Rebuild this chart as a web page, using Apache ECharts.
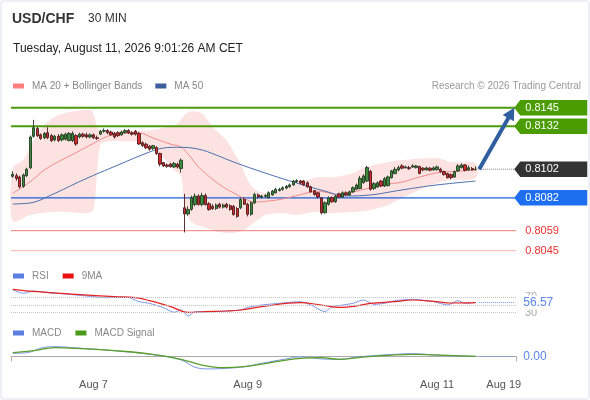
<!DOCTYPE html>
<html>
<head>
<meta charset="utf-8">
<script src="https://cdn.jsdelivr.net/npm/echarts/dist/echarts.min.js"></script>
<style>
html,body{margin:0;padding:0;background:#fff;}
#chart{position:absolute;left:0;top:0;width:590px;height:400px;}
#frame{position:absolute;left:0;top:0;width:586px;height:396px;border:2px solid #edf0f4;border-radius:4px;pointer-events:none;}
</style>
</head>
<body>
<div id="chart"></div>
<div id="frame"></div>
<script>
// ---------- DATA ----------
const slotCount = 144;                       // candle slots incl. right padding
const categories = Array.from({length: slotCount}, (_, i) => String(i));
const xTickIndex = [23, 67, 121, 140];
const xTickLabels = ['Aug 7', 'Aug 9', 'Aug 11', 'Aug 19'];

// [open, close, low, high]
const candles = [
[0.80970,0.80985,0.80960,0.81005],[0.80975,0.80955,0.80940,0.80990],[0.80965,0.80897,0.80886,0.80975],[0.80900,0.80980,0.80890,0.80990],
[0.80975,0.81020,0.80965,0.81030],[0.81030,0.81245,0.81020,0.81255],[0.81250,0.81310,0.81240,0.81365],[0.81305,0.81255,0.81245,0.81315],
[0.81260,0.81235,0.81225,0.81270],[0.81240,0.81270,0.81230,0.81280],[0.81275,0.81240,0.81230,0.81313],[0.81255,0.81220,0.81210,0.81265],
[0.81225,0.81250,0.81215,0.81260],[0.81250,0.81220,0.81210,0.81265],[0.81225,0.81260,0.81215,0.81270],[0.81230,0.81265,0.81220,0.81275],
[0.81220,0.81270,0.81215,0.81280],[0.81220,0.81270,0.81210,0.81285],[0.81255,0.81196,0.81184,0.81265],[0.81245,0.81265,0.81235,0.81275],
[0.81265,0.81250,0.81240,0.81275],[0.81260,0.81245,0.81235,0.81275],[0.81245,0.81260,0.81235,0.81270],[0.81260,0.81240,0.81230,0.81270],
[0.81240,0.81235,0.81225,0.81255],[0.81265,0.81285,0.81260,0.81295],[0.81285,0.81290,0.81275,0.81305],[0.81290,0.81275,0.81265,0.81300],
[0.81280,0.81260,0.81255,0.81290],[0.81270,0.81245,0.81235,0.81280],[0.81275,0.81255,0.81245,0.81285],[0.81260,0.81280,0.81255,0.81290],
[0.81275,0.81290,0.81270,0.81300],[0.81290,0.81275,0.81265,0.81300],[0.81275,0.81265,0.81255,0.81285],[0.81285,0.81265,0.81255,0.81295],
[0.81270,0.81196,0.81190,0.81280],[0.81205,0.81185,0.81175,0.81215],[0.81195,0.81170,0.81160,0.81205],[0.81180,0.81160,0.81150,0.81190],
[0.81165,0.81184,0.81155,0.81190],[0.81172,0.81130,0.81120,0.81180],[0.81130,0.81055,0.81040,0.81135],[0.81066,0.81043,0.81035,0.81070],
[0.81050,0.81040,0.81030,0.81060],[0.81055,0.81038,0.81030,0.81065],[0.81035,0.81060,0.81030,0.81070],[0.81055,0.81035,0.81025,0.81065],
[0.81025,0.81083,0.80996,0.81095],[0.80750,0.80707,0.80578,0.80848],[0.80707,0.80738,0.80695,0.80760],[0.80740,0.80820,0.80730,0.80835],
[0.80773,0.80832,0.80760,0.80850],[0.80832,0.80773,0.80765,0.80845],[0.80773,0.80836,0.80760,0.80855],[0.80836,0.80773,0.80765,0.80850],
[0.80778,0.80738,0.80730,0.80790],[0.80760,0.80745,0.80735,0.80775],[0.80745,0.80770,0.80735,0.80780],[0.80775,0.80755,0.80745,0.80785],
[0.80755,0.80770,0.80745,0.80780],[0.80775,0.80755,0.80745,0.80785],[0.80765,0.80738,0.80730,0.80775],[0.80760,0.80703,0.80695,0.80770],
[0.80745,0.80690,0.80680,0.80755],[0.80750,0.80808,0.80740,0.80820],[0.80808,0.80775,0.80770,0.80825],[0.80775,0.80705,0.80690,0.80785],
[0.80705,0.80785,0.80695,0.80795],[0.80785,0.80843,0.80775,0.80855],[0.80840,0.80825,0.80815,0.80850],[0.80825,0.80832,0.80815,0.80840],
[0.80830,0.80836,0.80820,0.80845],[0.80820,0.80855,0.80815,0.80865],[0.80840,0.80867,0.80835,0.80875],[0.80855,0.80879,0.80850,0.80890],
[0.80870,0.80879,0.80865,0.80890],[0.80879,0.80890,0.80870,0.80900],[0.80888,0.80900,0.80880,0.80910],[0.80898,0.80910,0.80890,0.80920],
[0.80910,0.80937,0.80905,0.80945],[0.80933,0.80940,0.80925,0.80950],[0.80937,0.80923,0.80915,0.80945],[0.80937,0.80910,0.80905,0.80945],
[0.80925,0.80897,0.80890,0.80935],[0.80897,0.80862,0.80855,0.80905],[0.80870,0.80843,0.80835,0.80875],[0.80855,0.80826,0.80815,0.80860],
[0.80820,0.80715,0.80703,0.80825],[0.80715,0.80785,0.80710,0.80795],[0.80775,0.80820,0.80765,0.80830],[0.80820,0.80792,0.80785,0.80830],
[0.80792,0.80832,0.80785,0.80840],[0.80848,0.80825,0.80820,0.80855],[0.80825,0.80855,0.80820,0.80865],[0.80855,0.80840,0.80835,0.80865],
[0.80840,0.80862,0.80835,0.80870],[0.80862,0.80890,0.80855,0.80900],[0.80880,0.80909,0.80875,0.80920],[0.80885,0.80956,0.80880,0.80973],
[0.80925,0.80973,0.80920,0.80985],[0.80937,0.81031,0.80930,0.81043],[0.81005,0.80879,0.80870,0.81015],[0.80885,0.80919,0.80875,0.80930],
[0.80895,0.80925,0.80890,0.80935],[0.80937,0.80902,0.80895,0.80945],[0.80902,0.80954,0.80895,0.80965],[0.80905,0.80966,0.80900,0.80975],
[0.80960,0.81008,0.80955,0.81015],[0.80989,0.81019,0.80985,0.81035],[0.81015,0.81031,0.81005,0.81045],[0.81043,0.81027,0.81020,0.81055],
[0.81030,0.81036,0.81025,0.81045],[0.81031,0.81024,0.81015,0.81043],[0.81035,0.81043,0.81030,0.81055],[0.81031,0.81043,0.81025,0.81050],
[0.81038,0.80990,0.80985,0.81045],[0.81027,0.81015,0.81005,0.81035],[0.81015,0.81029,0.81010,0.81038],[0.81027,0.81013,0.81005,0.81035],
[0.81015,0.81029,0.81010,0.81040],[0.81017,0.81036,0.81010,0.81045],[0.81020,0.81003,0.80995,0.81030],[0.81003,0.80982,0.80975,0.81010],
[0.80989,0.80961,0.80955,0.80995],[0.80982,0.80961,0.80949,0.80990],[0.80965,0.81003,0.80960,0.81010],[0.81008,0.81043,0.81000,0.81055],
[0.81031,0.81050,0.81025,0.81060],[0.81050,0.81012,0.81005,0.81055],[0.81015,0.81030,0.81010,0.81045],[0.81025,0.81015,0.81010,0.81035],
[0.81017,0.81020,0.81012,0.81040]
];

// [slot index, value]
const ma20 = [[0,0.80851],[5,0.80933],[9,0.81014],[13,0.81072],[18,0.81135],[23,0.812],[27,0.8125],[31,0.8127],[36,0.81273],[40,0.81238],[45,0.81195],[48,0.81175],[50,0.81125],[53,0.81035],[55,0.8099],[58,0.8093],[61,0.8088],[63,0.80854],[66,0.80815],[69,0.80791],[72,0.80795],[77,0.80812],[82,0.80842],[87,0.80866],[89,0.8086],[93,0.8084],[97,0.8086],[102,0.8089],[106,0.80912],[111,0.8093],[116,0.80965],[121,0.80995],[125,0.81003],[132,0.81014]];
const bandUpper = [[0,0.81028],[3,0.81084],[6,0.81224],[9,0.81329],[13,0.81399],[18,0.81427],[22,0.81434],[23,0.8141],[24,0.8132],[25,0.81285],[32,0.81287],[37,0.81287],[40,0.81294],[44,0.81315],[47,0.8134],[49,0.814],[51,0.81425],[54,0.8141],[57,0.81315],[61,0.8122],[63,0.8114],[65,0.81055],[67,0.80945],[69,0.8088],[72,0.80854],[77,0.80875],[81,0.80944],[84,0.80944],[87,0.80965],[92,0.80965],[97,0.80993],[100,0.81028],[107,0.8107],[111,0.81084],[121,0.81098],[125,0.8107],[132,0.81063]];
const bandLower = [[0,0.80658],[5,0.807],[11,0.80721],[16,0.80721],[21,0.80714],[23,0.80735],[24,0.8098],[25,0.8119],[27,0.81215],[33,0.81215],[37,0.81205],[40,0.81168],[43,0.81098],[46,0.81014],[48,0.80972],[49,0.8077],[51,0.8065],[55,0.8061],[59,0.8058],[63,0.80574],[66,0.80595],[69,0.8065],[72,0.807],[77,0.80714],[81,0.807],[86,0.80721],[89,0.80714],[97,0.80721],[102,0.80735],[107,0.8077],[111,0.80819],[116,0.80875],[121,0.80923],[125,0.80944],[132,0.80958]];
const ma50 = [[0,0.80777],[5,0.80784],[11,0.8084],[20,0.80944],[30,0.81049],[39,0.8114],[43,0.81168],[47,0.81173],[53,0.8116],[58,0.81119],[63,0.8107],[72,0.80993],[81,0.80923],[89,0.80867],[95,0.80833],[102,0.8084],[111,0.80875],[121,0.8091],[132,0.80937]];

const targetLevels = [0.8145, 0.8132];
const pivotLevel = 0.8082;
const supportLevels = [0.8059, 0.8045];

const rsi = [[0,89],[3,80.4],[6,86.4],[10,82],[16,77.8],[21,73.4],[26,69],[33,69.5],[36,58.7],[39,54.3],[43,43],[46,31],[48,37],[50,21.4],[52,32.6],[56,32.6],[61,34.4],[65,37],[67,43.9],[71,50],[78,56],[82,58.7],[85,50],[89,32.6],[91,45.7],[93,48.3],[97,54.3],[100,63],[103,51.7],[106,54.3],[109,61.3],[114,64.8],[120,58.7],[124,50],[127,61.3],[129,54.3],[132,56.57]];
const rsiMa = [[0,90.8],[7,84.6],[18,77.8],[29,71.6],[35,69],[39,61.3],[45,45.7],[50,31],[55,32.6],[61,34.4],[65,37],[71,45.7],[82,56],[88,50],[93,43.9],[98,47.4],[102,54.3],[109,58.7],[114,63],[120,59.5],[125,55.2],[132,56]];
const rsiLevels = [70, 50, 30];

const macd = [[0,0.00015],[4,0.00018],[9,0.00045],[12,0.00048],[18,0.00042],[29,0.00028],[39,0.0001],[48,-0.00018],[52,-0.00055],[56,-0.00063],[61,-0.0006],[66,-0.00052],[71,-0.00035],[78,-0.00013],[82,-0.00003],[88,-0.00013],[93,-0.00015],[99,-0.00002],[109,0.0001],[114,0.00013],[120,0.00007],[125,0.00002],[132,0]];
const macdSignal = [[0,0.00018],[6,0.00028],[12,0.00043],[18,0.0004],[29,0.00028],[39,0.00012],[48,-0.00015],[54,-0.00044],[60,-0.00057],[66,-0.00052],[71,-0.00039],[82,-0.0001],[88,-0.00007],[93,-0.00015],[99,-0.00005],[109,0.00007],[114,0.0001],[120,0.00007],[132,0]];

// ---------- DERIVED ----------
const lastIdx = candles.length - 1;
const nextIdx = candles.length;           // slot right after the last candle
const tagIdx = slotCount - 1;             // right edge slot
const lastClose = candles[lastIdx][1];
const lastRsi = rsi[rsi.length - 1][1];
const lastMacd = macd[macd.length - 1][1];

const FONT = '"Liberation Sans", Arial, Helvetica, sans-serif';
const GREEN = '#4a9c00', BLUE = '#1d6ff0', DARK = '#333333';
const tagItems = [[tagIdx, targetLevels[0]], [tagIdx, targetLevels[1]], [tagIdx, lastClose], [tagIdx, pivotLevel]];
const tagColors = [GREEN, GREEN, DARK, BLUE];

const levelLines = [
  {v: targetLevels[0], color: '#4c9a0c', width: 2},
  {v: targetLevels[1], color: '#4c9a0c', width: 2},
  {v: pivotLevel, color: '#1f5fd6', width: 1.2},
  {v: supportLevels[0], color: '#f27c7c', width: 1, label: true},
  {v: supportLevels[1], color: '#f7b0b0', width: 1, label: true}
];

const gridL = 11, gridR = 74;
const hiddenX = (gi) => ({type:'category', gridIndex: gi, data: categories, show: false});

const tickSet = {};
xTickIndex.forEach((k, j) => tickSet[k] = xTickLabels[j]);

const chart = echarts.init(document.getElementById('chart'), null, {renderer: 'canvas'});
chart.setOption({
  animation: false,
  backgroundColor: '#fff',
  textStyle: {fontFamily: FONT},
  title: [
    {text: 'USD/CHF', left: 12, top: 12, padding: 0, textStyle: {fontSize: 14, fontWeight: 'bold', color: '#333', fontFamily: FONT}},
    {text: '30 MIN', left: 88, top: 13, padding: 0, textStyle: {fontSize: 12, fontWeight: 'normal', color: '#333', fontFamily: FONT}},
    {text: 'Tuesday, August 11, 2026 9:01:26 AM CET', left: 13, top: 43, padding: 0, textStyle: {fontSize: 12, fontWeight: 'normal', color: '#222', fontFamily: FONT}},
    {text: 'Research © 2026 Trading Central', right: 9, top: 81, padding: 0, textStyle: {fontSize: 10, fontWeight: 'normal', color: '#999', fontFamily: FONT}}
  ],
  legend: [
    {left: 13, top: 81, padding: 0, itemWidth: 11, itemHeight: 5, itemGap: 13, icon: 'rect', selectedMode: false,
     textStyle: {fontSize: 10, color: '#888', fontFamily: FONT, padding: [0,0,0,3]},
     data: [{name: 'MA 20 + Bollinger Bands', itemStyle: {color: '#ff7f7f'}}, {name: 'MA 50', itemStyle: {color: '#3c5e9c'}}]},
    {left: 13, top: 271, padding: 0, itemWidth: 11, itemHeight: 5, itemGap: 14, icon: 'rect', selectedMode: false,
     textStyle: {fontSize: 10, color: '#888', fontFamily: FONT, padding: [0,0,0,3]},
     data: [{name: 'RSI', itemStyle: {color: '#5b7fe0'}}, {name: '9MA', itemStyle: {color: '#e81010'}}]},
    {left: 13, top: 328, padding: 0, itemWidth: 11, itemHeight: 5, itemGap: 14, icon: 'rect', selectedMode: false,
     textStyle: {fontSize: 10, color: '#888', fontFamily: FONT, padding: [0,0,0,3]},
     data: [{name: 'MACD', itemStyle: {color: '#5b7fe0'}}, {name: 'MACD Signal', itemStyle: {color: '#4a9a1a'}}]}
  ],
  grid: [
    {left: gridL, right: gridR, top: 100.55, height: 157.3, outerBoundsMode: 'none', containLabel: false},
    {left: gridL, right: gridR, top: 285.75, height: 38.5, outerBoundsMode: 'none', containLabel: false},
    {left: gridL, right: gridR, top: 336, height: 35, outerBoundsMode: 'none', containLabel: false}
  ],
  xAxis: [
    hiddenX(0),
    hiddenX(1),
    {type: 'category', gridIndex: 2, data: categories, position: 'bottom',
     axisLine: {show: true, lineStyle: {color: '#aaa', width: 1}},
     axisTick: {show: true, length: 5, interval: (i) => i === 0, lineStyle: {color: '#aaa'}},
     axisLabel: {show: true, interval: (i) => (i in tickSet), formatter: (v, i) => tickSet[i] || '', color: '#555', fontSize: 11, margin: 8, fontFamily: FONT},
     splitLine: {show: false}}
  ],
  yAxis: [
    {type: 'value', gridIndex: 0, min: 0.8040, max: 0.8150, show: false},
    {type: 'value', gridIndex: 1, min: 0, max: 100, show: false},
    {type: 'value', gridIndex: 2, min: -0.000735, max: 0.001015, show: false}
  ],
  series: [
    {
      name: 'band', type: 'custom', xAxisIndex: 0, yAxisIndex: 0, silent: true, z: 1, clip: false,
      data: [[bandUpper[0][0], bandUpper[0][1]]],
      renderItem: (params, api) => {
        const pts = bandUpper.map(p => api.coord(p)).concat(bandLower.slice().reverse().map(p => api.coord(p)));
        return {type: 'polygon', shape: {points: pts, smooth: 0.3}, style: {fill: 'rgba(249,140,140,0.25)'}};
      }
    },
    {
      name: 'levels', type: 'custom', xAxisIndex: 0, yAxisIndex: 0, silent: true, z: 2, clip: false,
      data: levelLines.map(l => [0, l.v]),
      renderItem: (params, api) => {
        const l = levelLines[params.dataIndex];
        const a = api.coord([0, l.v]);
        const r = api.coord([tagIdx, l.v]);
        const gridRight = params.coordSys.x + params.coordSys.width;
        const x0 = params.coordSys.x;
        const children = [{type: 'line', shape: {x1: x0, y1: a[1], x2: gridRight, y2: a[1]}, style: {stroke: l.color, lineWidth: l.width}}];
        if (l.label) {
          children.push({type: 'text', x: r[0] + 11, y: a[1], style: {text: l.v.toFixed(4), fill: '#e83030', fontSize: 11, fontFamily: FONT, verticalAlign: 'middle', align: 'left'}});
        }
        return {type: 'group', children};
      }
    },
    {name: 'MA 20 + Bollinger Bands', type: 'line', xAxisIndex: 0, yAxisIndex: 0, data: ma20, smooth: 0.4, showSymbol: false, silent: true, z: 3,
     color: '#f28a8a', lineStyle: {color: '#f28a8a', width: 1}},
    {name: 'MA 50', type: 'line', xAxisIndex: 0, yAxisIndex: 0, data: ma50, smooth: 0.4, showSymbol: false, silent: true, z: 3,
     color: '#4a6fae', lineStyle: {color: '#4a6fae', width: 1}},
    {
      name: 'USD/CHF', type: 'candlestick', xAxisIndex: 0, yAxisIndex: 0, data: candles, barWidth: 2.8, z: 4, silent: true,
      itemStyle: {color: '#3b8c3b', color0: '#d42a2a', borderColor: '#223a22', borderColor0: '#4a1c1c', borderWidth: 0.9}
    },
    {
      name: 'lastPrice', type: 'line', xAxisIndex: 0, yAxisIndex: 0, silent: true, z: 4, showSymbol: false,
      data: [[nextIdx, lastClose], [tagIdx, lastClose]],
      lineStyle: {color: '#777', width: 1, type: 'dotted'}
    },
    {
      name: 'tags', type: 'custom', xAxisIndex: 0, yAxisIndex: 0, silent: true, z: 10, clip: false,
      data: tagItems,
      renderItem: (params, api) => {
        const p = api.coord([api.value(0), api.value(1)]);
        const x0 = p[0], y = p[1], h = 7.8, w = 73;
        return {type: 'group', children: [
          {type: 'polygon', shape: {points: [[x0, y], [x0 + 6, y - h], [x0 + w, y - h], [x0 + w, y + h], [x0 + 6, y + h]]}, style: {fill: tagColors[params.dataIndex]}},
          {type: 'text', x: x0 + 11, y: y, style: {text: api.value(1).toFixed(4), fill: '#fff', fontSize: 11, fontFamily: FONT, verticalAlign: 'middle', align: 'left'}}
        ]};
      }
    },
    {
      name: 'arrow', type: 'custom', xAxisIndex: 0, yAxisIndex: 0, silent: true, z: 9, clip: false,
      dimensions: ['x1', 'y1', 'x2', 'y2'],
      encode: {x: [0, 2], y: [1, 3]},
      data: [[nextIdx, lastClose, tagIdx, targetLevels[0]]],
      renderItem: (params, api) => {
        const a = api.coord([api.value(0), api.value(1)]);
        const b = api.coord([api.value(2), api.value(3)]);
        const dx = b[0] - a[0], dy = b[1] - a[1], L = Math.hypot(dx, dy), ux = dx / L, uy = dy / L;
        const hl = 12, hw = 6.5;
        const bx = b[0] - ux * hl, by = b[1] - uy * hl;
        return {type: 'group', children: [
          {type: 'line', shape: {x1: a[0], y1: a[1], x2: bx + ux, y2: by + uy}, style: {stroke: '#2f5f9f', lineWidth: 4}},
          {type: 'polygon', shape: {points: [[b[0], b[1]], [bx - uy * hw, by + ux * hw], [bx + uy * hw, by - ux * hw]]}, style: {fill: '#2f5f9f'}}
        ]};
      }
    },
    {
      name: 'RSI', type: 'line', xAxisIndex: 1, yAxisIndex: 1, data: rsi, smooth: 0.2, showSymbol: false, silent: true, z: 3,
      color: '#7b97e8', lineStyle: {color: '#7b97e8', width: 1},
      markLine: {
        silent: true, symbol: 'none', animation: false,
        data: [
          {yAxis: rsiLevels[0], lineStyle: {color: '#c4c4c4', width: 1, type: 'dotted'},
           label: {show: true, position: 'end', distance: 9, formatter: String(rsiLevels[0]), color: '#aaa', fontSize: 11, fontFamily: FONT}},
          {yAxis: rsiLevels[1], lineStyle: {color: '#c4c4c4', width: 1, type: 'dotted'}, label: {show: false}},
          {yAxis: rsiLevels[2], lineStyle: {color: '#c4c4c4', width: 1, type: 'dotted'},
           label: {show: true, position: 'end', distance: 9, formatter: String(rsiLevels[2]), color: '#aaa', fontSize: 11, fontFamily: FONT}},
          [{coord: [nextIdx, lastRsi]}, {coord: [tagIdx, lastRsi], lineStyle: {color: '#7b97e8', width: 1, type: 'dotted'},
           label: {show: true, position: 'end', distance: 9, formatter: lastRsi.toFixed(2), color: '#5b86ec', fontSize: 12, fontFamily: FONT, backgroundColor: '#fff', padding: [1, 2, 1, 0]}}]
        ]
      }
    },
    {name: '9MA', type: 'line', xAxisIndex: 1, yAxisIndex: 1, data: rsiMa, smooth: 0.4, showSymbol: false, silent: true, z: 4,
     color: '#e52222', lineStyle: {color: '#e52222', width: 1.2}},
    {
      name: 'MACD', type: 'line', xAxisIndex: 2, yAxisIndex: 2, data: macd, smooth: 0.4, showSymbol: false, silent: true, z: 3,
      color: '#7b97e8', lineStyle: {color: '#7b97e8', width: 1},
      markLine: {
        silent: true, symbol: 'none', animation: false,
        data: [
          [{coord: [nextIdx, lastMacd]}, {coord: [tagIdx, lastMacd], lineStyle: {color: '#7b97e8', width: 1, type: 'dotted'},
           label: {show: true, position: 'end', distance: 9, formatter: lastMacd.toFixed(2), color: '#5b86ec', fontSize: 12, fontFamily: FONT}}]
        ]
      }
    },
    {name: 'MACD Signal', type: 'line', xAxisIndex: 2, yAxisIndex: 2, data: macdSignal, smooth: 0.4, showSymbol: false, silent: true, z: 4,
     color: '#5a9e2a', lineStyle: {color: '#5a9e2a', width: 1.3}}
  ]
});
</script>
</body>
</html>
